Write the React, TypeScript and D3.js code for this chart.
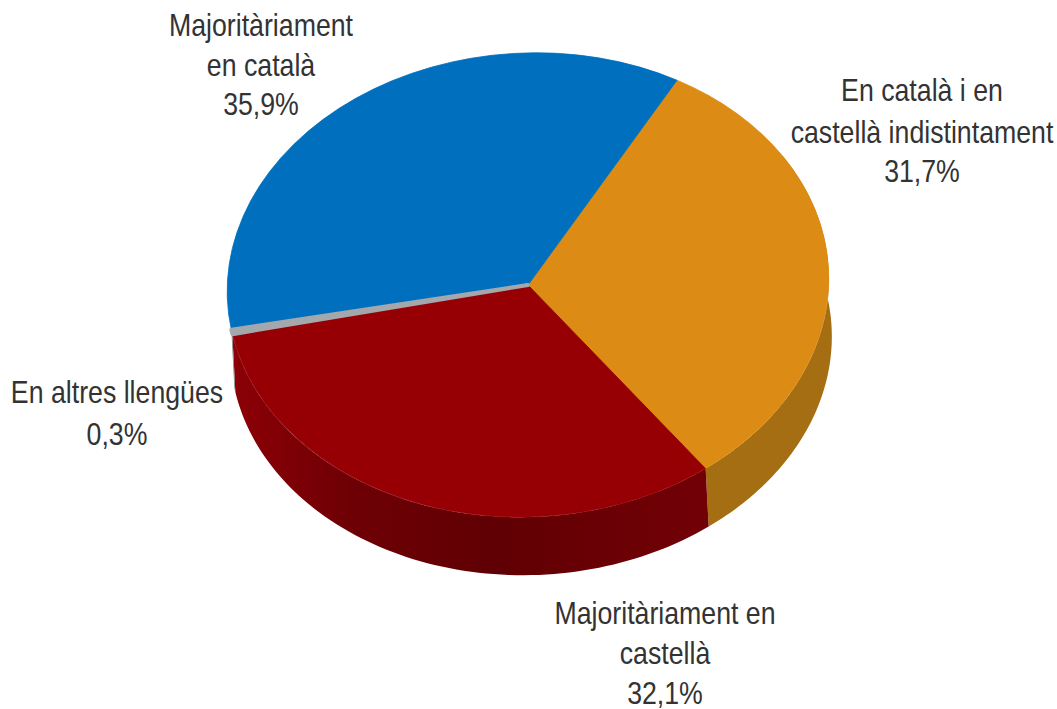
import React from "react";
import * as d3 from "d3";

const categories = ["En català i en castellà indistintament", "Majoritàriament en castellà", "En altres llengües", "Majoritàriament en català"];
const values = [31.7, 32.1, 0.3, 35.9];
const topColors = ["#dc8c14", "#960005", "#a4a8ac", "#006fbe"];
const sideColors = ["#a56e12", "url(#redSide)", "#808080", "none"];
const labelLines = [
  ["En català i en", "castellà indistintament", "31,7%"],
  ["Majoritàriament en", "castellà", "32,1%"],
  ["En altres llengües", "0,3%"],
  ["Majoritàriament", "en català", "35,9%"],
];
const labelCenters = [922, 665, 117, 261];
const labelBaselines = [
  [101, 143, 182],
  [624, 664, 704],
  [403, 445],
  [36, 76, 115],
];

const W = 1057, H = 709;
const cx = 528, cy = 285, a = 301, b = 232, tilt = -3;
const depthX = 3, depthY = 58;
const startDeg = 32;
const textScaleX = 0.876;
const thinSliceIndex = 2;

const arcs = d3.pie<number>().sort(null)
  .startAngle((startDeg * Math.PI) / 180)
  .endAngle(((startDeg + 360) * Math.PI) / 180)(values);

const unitArc = d3.arc<any>().innerRadius(0).outerRadius(1);
const phi = (tilt * Math.PI) / 180;

function project(t: number): [number, number] {
  const x = a * Math.sin(t), y = -b * Math.cos(t);
  return [cx + x * Math.cos(phi) - y * Math.sin(phi), cy + x * Math.sin(phi) + y * Math.cos(phi)];
}

function sidePath(a0: number, a1: number) {
  const lo = Math.max(a0, (60 * Math.PI) / 180), hi = Math.min(a1, (280 * Math.PI) / 180);
  if (hi <= lo) return null;
  const ts = d3.range(0, 81).map((i) => lo + ((hi - lo) * i) / 80);
  const top = ts.map(project);
  const bottom = top.map(([x, y]) => [x + depthX, y + depthY] as [number, number]).reverse();
  return d3.line()([...top, ...bottom]) + "Z";
}

export default function App() {
  return (
    <svg width={W} height={H} viewBox={`0 0 ${W} ${H}`}
      style={{ position: "absolute", left: 0, top: 0, background: "#fff" }}>
      <defs>
        <linearGradient id="redSide" gradientUnits="objectBoundingBox" x1="0" x2="1" y1="0" y2="0">
          <stop offset="0" stopColor="#8c0006" />
          <stop offset="0.25" stopColor="#6e0005" />
          <stop offset="0.55" stopColor="#600004" />
          <stop offset="1" stopColor="#720006" />
        </linearGradient>
      </defs>
      {arcs.map((s, i) => {
        const d = sidePath(s.startAngle, s.endAngle);
        return d && sideColors[i] !== "none"
          ? <path key={i} d={d} fill={sideColors[i]} /> : null;
      })}
      <g transform={`translate(${cx},${cy}) rotate(${tilt}) scale(${a},${b})`}>
        {arcs.map((s, i) => i === thinSliceIndex ? null : (
          <path key={i} d={unitArc(s) as string} fill={topColors[i]} stroke={topColors[i]} strokeWidth={0.003} />
        ))}
        <path d={unitArc(arcs[thinSliceIndex]) as string} fill={topColors[thinSliceIndex]}
          stroke={topColors[thinSliceIndex]} strokeWidth={4} vectorEffect="non-scaling-stroke" strokeLinejoin="round" />
      </g>
      {labelLines.map((lines, i) => (
        <text key={i} textAnchor="middle" transform={`translate(${labelCenters[i]},0) scale(${textScaleX},1)`}
          fontFamily="'Liberation Sans',Arial,sans-serif" fontSize={30.5} fill="#333333">
          {lines.map((l, j) => (
            <tspan key={j} x={0} y={labelBaselines[i][j]}>{l}</tspan>
          ))}
        </text>
      ))}
    </svg>
  );
}
